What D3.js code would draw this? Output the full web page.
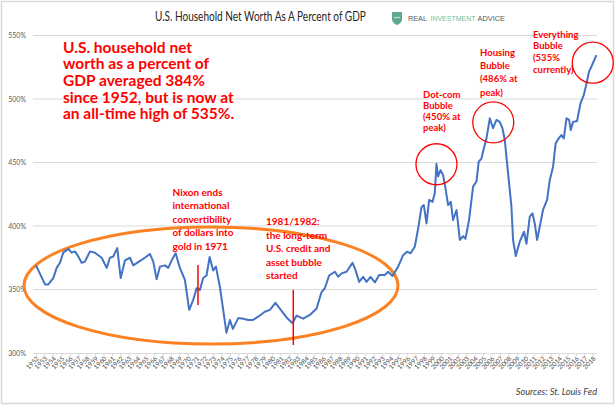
<!DOCTYPE html>
<html><head><meta charset="utf-8">
<script src="https://cdn.jsdelivr.net/npm/d3@7"></script>
<style>body{margin:0;background:#fff}svg{display:block}</style>
</head><body><svg id="c" width="616" height="406"></svg>
<script>
const years = [1952.0,1953.07,1953.46,1954.05,1954.45,1954.84,1955.23,1955.83,1956.23,1956.62,1957.01,1957.41,1957.8,1958.4,1958.99,1959.38,1959.78,1960.38,1960.77,1961.16,1961.63,1962.04,1962.55,1963.14,1963.53,1964.12,1964.91,1965.5,1965.9,1966.3,1966.69,1967.28,1967.68,1968.08,1968.55,1969.06,1969.65,1970.16,1970.64,1971.04,1971.43,1971.82,1972.22,1972.58,1973.0,1973.33,1973.8,1974.19,1974.57,1974.99,1975.34,1975.97,1976.56,1977.15,1977.71,1978.34,1979.13,1979.73,1980.38,1980.91,1981.7,1982.41,1982.89,1983.67,1984.46,1985.26,1985.85,1986.24,1986.75,1987.43,1987.82,1988.22,1988.81,1989.52,1989.8,1990.31,1990.78,1991.18,1991.66,1992.17,1992.68,1993.35,1993.74,1994.26,1994.93,1995.52,1995.99,1996.4,1996.9,1997.3,1997.7,1997.97,1998.29,1998.6,1999.0,1999.27,1999.47,1999.66,1999.95,2000.26,2000.58,2000.85,2001.17,2001.44,2001.85,2002.24,2002.63,2002.91,2003.34,2003.81,2004.21,2004.48,2004.8,2005.08,2005.4,2005.79,2006.18,2006.58,2006.97,2007.29,2007.57,2007.96,2008.36,2008.55,2008.87,2009.34,2009.85,2010.14,2010.53,2010.85,2011.12,2011.4,2011.71,2012.1,2012.58,2012.9,2013.29,2013.6,2013.96,2014.28,2014.57,2014.88,2015.19,2015.39,2015.66,2016.14,2016.54,2016.93,2017.25,2017.56,2017.84,2018.43];
const netWorthPct = [369,354,354,359,367,371,379,382,379,380,376,371,372,380,379,377,375,367,375,376,382.6,359,373,375,369,371.5,375,378,372,358,368,369,367,373,378.5,367,357.5,334,342,351,349.6,359,361,375.6,365,368,352,334,316,326,319,327.5,327,326,326,328.6,332.5,334,339.5,335,328,323.5,329.5,327,330,335,348,351,361,364,360,362.7,364,371,366.6,356,360,356,360,355.6,361.4,361.4,364,360.6,368,377,379.8,378.5,383.7,398,415,416.5,402,420.5,419,425.7,449,439,444,440,428,416.5,419,404.7,412.6,389,392,390,405,431,435,450.6,453,461,469,484.8,477,483.5,482,477,467.7,441.5,415,389,376.4,387.6,395.5,386,407.4,410,402,389,399.4,412.6,420.5,436,446.7,465,469,471.6,469,484.8,483.5,475.6,482,482.7,496.6,503,512,521.6,525.6,534.6];
const yTicks = [300,350,400,450,500,550];
const tickYears = d3.range(1952, 2019);

const mainNote = ["U.S. household net","worth as a percent of","GDP averaged 384%","since 1952, but is now at","an all-time high of 535%."];
const nixonNote = ["Nixon ends","international","convertibility","of dollars into","gold in 1971"];
const creditNote = ["1981/1982:","the long-term","U.S. credit and","asset bubble","started"];
const dotcomNote = ["Dot-com","Bubble","(450% at","peak)"];
const housingNote = ["Housing","Bubble","(486% at","peak)"];
const everythingNote = ["Everything","Bubble","(535%","currently)"];

const svg = d3.select("#c");
const F = "Lato, 'Open Sans', sans-serif";
const x = d3.scaleLinear().domain([1952, 2018.5]).range([36, 597]);
const y = d3.scaleLinear().domain([300, 550]).range([353, 35.5]);

svg.append("rect").attr("x",1.5).attr("y",1.5).attr("width",612).attr("height",402)
  .attr("fill","#fff").attr("stroke","#d9d9d9").attr("stroke-width",1.5);

// grid
svg.append("g").selectAll("line").data(yTicks.slice(1)).join("line")
  .attr("x1",33).attr("x2",597).attr("y1",d=>y(d)).attr("y2",d=>y(d))
  .attr("stroke","#d9d9d9").attr("stroke-width",1);
svg.append("g").selectAll("text").data(yTicks).join("text")
  .attr("x",26).attr("y",d=>y(d)+2.5).attr("text-anchor","end")
  .attr("font-family",F).attr("font-size",7).attr("fill","#595959")
  .text(d=>d+"%");

// x axis
const xAxis = d3.axisBottom(x).tickValues(tickYears).tickSize(3).tickFormat(d3.format("d"));
const gx = svg.append("g").attr("transform","translate(0,353)").call(xAxis);
gx.select(".domain").attr("stroke","#d9d9d9").attr("d","M33,0.5H597");
gx.selectAll(".tick line").attr("stroke","#d9d9d9");
gx.selectAll(".tick text").attr("font-family",F).attr("font-size",6.5).attr("fill","#4d4d4d")
  .attr("text-anchor","end").attr("dy",0).attr("y",0)
  .attr("transform","translate(3,6) rotate(-45)");

// ellipse
svg.append("ellipse").attr("cx",211).attr("cy",285.5).attr("rx",187).attr("ry",58.5)
  .attr("fill","none").attr("stroke","#fb8122").attr("stroke-width",3);

// line
const line = d3.line().x((d,i)=>x(years[i])).y(d=>y(d));
svg.append("path").datum(netWorthPct).attr("d",line)
  .attr("fill","none").attr("stroke","#4472c4").attr("stroke-width",2).attr("stroke-linejoin","round");

// red markers
svg.append("line").attr("x1",x(1971.2)).attr("x2",x(1971.2)).attr("y1",265).attr("y2",305)
  .attr("stroke","#ff0000").attr("stroke-width",1.5);
svg.append("line").attr("x1",x(1982.5)).attr("x2",x(1982.5)).attr("y1",290).attr("y2",345)
  .attr("stroke","#ff0000").attr("stroke-width",1.5);
[[1999.47,449],[2006.2,482],[2018.0,529]].forEach(([yr,v])=>{
  svg.append("circle").attr("cx",x(yr)).attr("cy",y(v)+0.5).attr("r",20.5)
    .attr("fill","none").attr("stroke","#ff0000").attr("stroke-width",1.3);
});

function block(lines, x0, y0, dy, size){
  const t = svg.append("text").attr("font-family",F).attr("font-weight","bold")
    .attr("font-size",size).attr("fill","#ff0000");
  lines.forEach((l,i)=>t.append("tspan").attr("x",x0).attr("y",y0+i*dy).text(l));
}
block(mainNote, 63, 52.5, 16.7, 15.5);
block(nixonNote, 172.5, 195.5, 13.5, 10);
block(creditNote, 266, 225, 13.5, 10);
block(dotcomNote, 423, 97.5, 11.2, 9.5);
block(housingNote, 480, 56, 13.2, 9.5);
block(everythingNote, 533, 37.5, 11.8, 9.5);

// fitted text: scale horizontally so the text spans width w
function fitText(str, x0, y0, w, size, family, fill){
  const t = svg.append("text").attr("font-family",family).attr("font-size",size).attr("fill",fill).text(str);
  const len = t.node().getComputedTextLength();
  const s = Math.min(1, w/len);
  t.attr("transform",`translate(${x0},${y0}) scale(${s},1)`);
  return t;
}
// title
fitText("U.S. Household Net Worth As A Percent of GDP", 155, 21, 211, 13, F, "#262626");

// logo
const lg = svg.append("g").attr("transform","translate(392,12)");
lg.append("path").attr("d","M0,0H10V7Q10,11 5,13Q0,11 0,7Z").attr("fill","#5ea98c");
lg.selectAll("circle").data([3,5,7]).join("circle").attr("cx",d=>d).attr("cy",5.5).attr("r",0.7).attr("fill","#fff");
const LF = "'Liberation Sans', Arial, sans-serif";
fitText("REAL", 408, 21, 19, 7.5, LF, "#555");
fitText("INVESTMENT", 430.5, 21, 45, 7.5, LF, "#6cbf9a");
fitText("ADVICE", 477.5, 21, 27.5, 7.5, LF, "#555");

// source
svg.append("text").attr("x",597).attr("y",395).attr("text-anchor","end")
  .attr("font-family",F).attr("font-style","italic").attr("font-size",9.2).attr("fill","#404040")
  .text("Sources: St. Louis Fed");
</script></body></html>
